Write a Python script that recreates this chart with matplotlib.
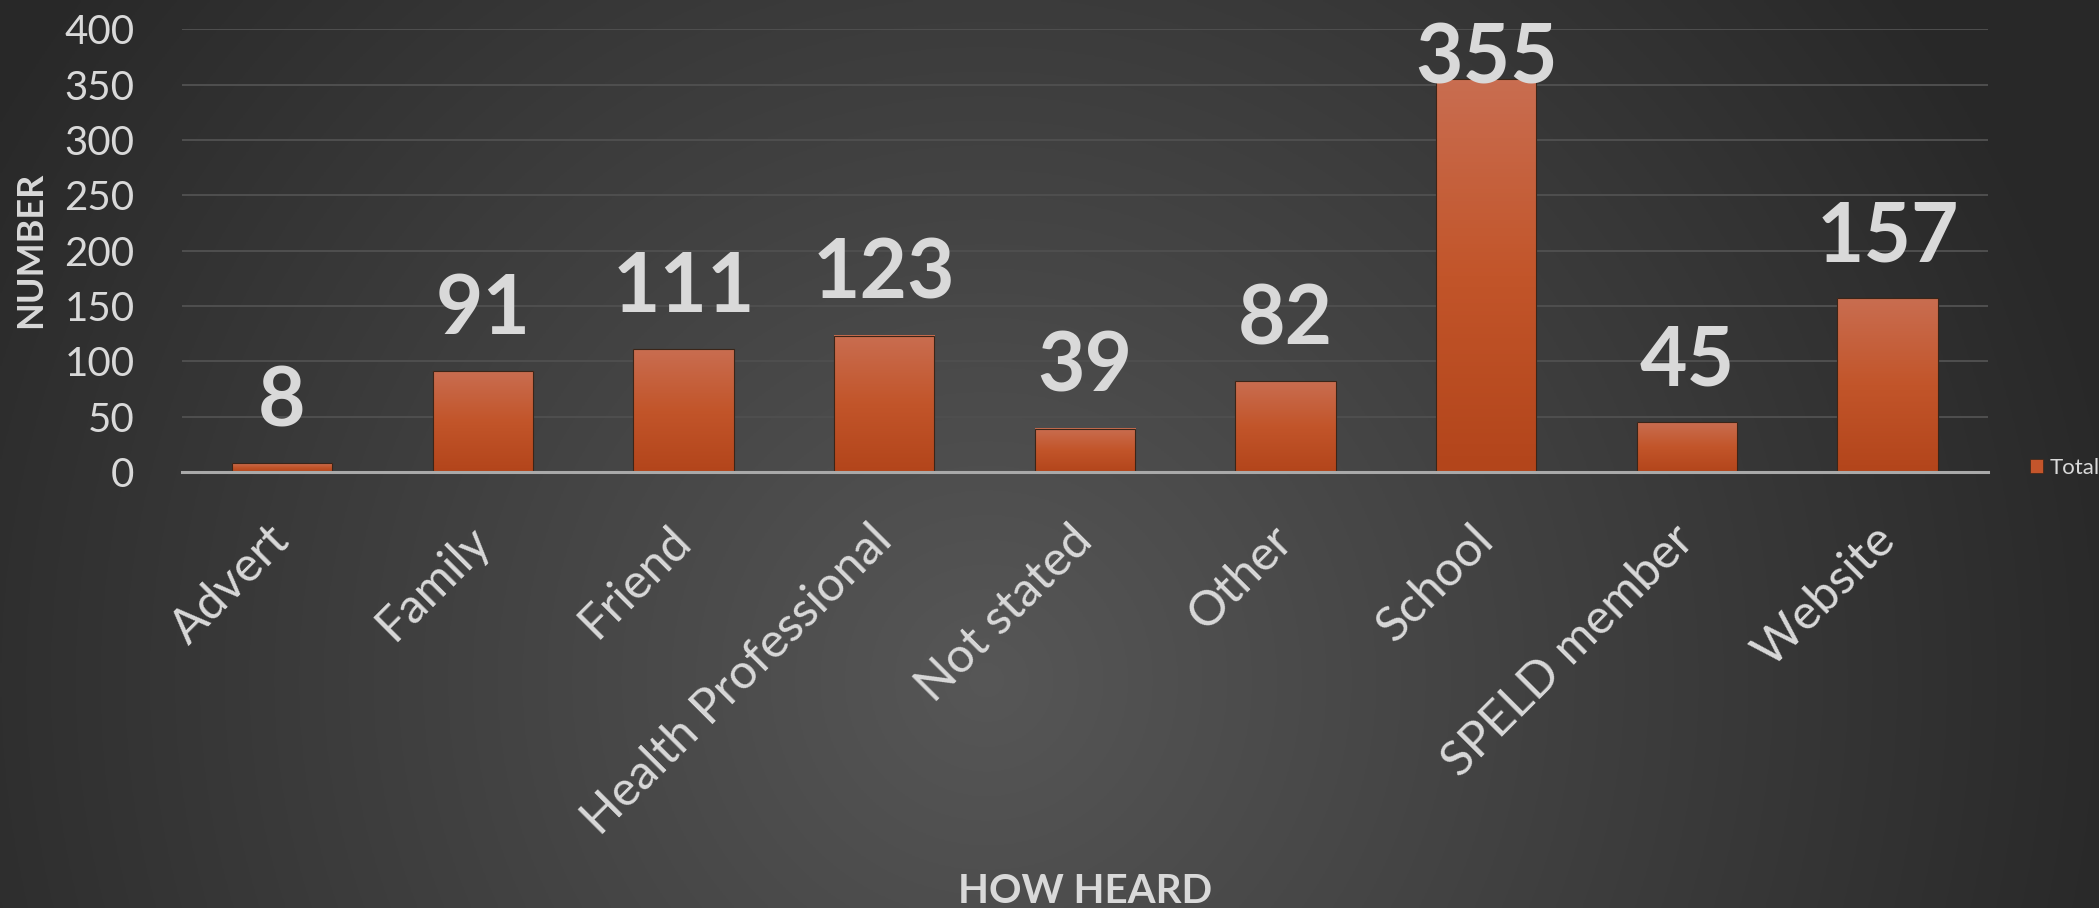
import numpy as np
import matplotlib.pyplot as plt
from matplotlib.patches import Patch
from matplotlib.colors import LinearSegmentedColormap

# data
categories = ['Advert', 'Family', 'Friend', 'Health Professional', 'Not stated',
              'Other', 'School', 'SPELD member', 'Website']
totals = [8, 91, 111, 123, 39, 82, 355, 45, 157]
y_ticks = [0, 50, 100, 150, 200, 250, 300, 350, 400]

plt.rcParams['font.family'] = ['Lato', 'DejaVu Sans']
txt_col = '#d9d9d9'

W, H = 2099, 908
fig = plt.figure(figsize=(W / 100, H / 100), dpi=100)

# radial grey background
bg = fig.add_axes([0, 0, 1, 1], zorder=0)
yy, xx = np.mgrid[0:1:300j, 0:1:700j]
d = np.sqrt(((xx - 0.47) * 2.3) ** 2 + ((yy - 0.25) * 1.0) ** 2)
d = np.clip(d / 1.25, 0, 1)
shade = 0.34 - (0.34 - 0.16) * d
bg.imshow(np.dstack([shade] * 3), extent=[0, 1, 0, 1], origin='lower', aspect='auto')
bg.set_axis_off()

ax = fig.add_axes([181.7 / W, 1 - 472 / H, (1988 - 181.7) / W, (472 - 29.3) / H], zorder=1)
ax.patch.set_visible(False)

x = np.arange(len(categories))
bars = ax.bar(x, totals, width=0.5, color='none', edgecolor='#3b2518', lw=0.8, zorder=3)

# vertical gradient inside each bar
bar_cmap = LinearSegmentedColormap.from_list('bar', ['#b3451b', '#c2552a', '#c96d50'])
grad = np.linspace(0, 1, 100).reshape(-1, 1)
for b in bars:
    ax.imshow(grad, extent=[b.get_x(), b.get_x() + b.get_width(), 0, b.get_height()],
              origin='lower', aspect='auto', cmap=bar_cmap, zorder=2.9)

ax.set_xlim(-0.5, len(categories) - 0.5)
ax.set_ylim(0, 400)
ax.set_yticks(y_ticks)
ax.set_xticks(x)
ax.set_xticklabels(categories)
ax.grid(axis='y', color='#4f4f4f', lw=1.4, zorder=1)
ax.set_axisbelow(True)
for s in ['top', 'right', 'left']:
    ax.spines[s].set_visible(False)
ax.spines['bottom'].set_color('#a9a9a9')
ax.spines['bottom'].set_linewidth(2.2)
ax.spines['bottom'].set_zorder(4)

ax.tick_params(axis='y', length=0, pad=34, labelsize=29, labelcolor=txt_col)
ax.tick_params(axis='x', length=0, pad=44, labelsize=35, labelcolor=txt_col)
for lab in ax.get_xticklabels():
    lab.set_rotation(45)
    lab.set_ha('right')
    lab.set_va('center')
    lab.set_rotation_mode('anchor')

# value labels, pushed down when they would leave the picture
for i, v in enumerate(totals):
    top_px = ax.transData.transform((i, v))[1]
    off = min(37, H - top_px - 83)
    ax.annotate(str(v), (i, v), xytext=(0, off), textcoords='offset pixels',
                ha='center', va='baseline', fontsize=59, fontweight='bold',
                color=txt_col, annotation_clip=False, zorder=5)

fig.text(31 / W, 1 - 250 / H, 'NUMBER', rotation=90, ha='center', va='center',
         fontsize=26, fontweight='bold', color=txt_col)
fig.text(1085 / W, 5 / H, 'HOW HEARD', ha='center', va='baseline',
         fontsize=29, fontweight='bold', color=txt_col)

fig.legend([Patch(facecolor='#c4552b', edgecolor='#3b2518', lw=0.5)], ['Total'],
           loc='center left', bbox_to_anchor=(2030 / W, 1 - 468 / H), frameon=False,
           fontsize=16, handlelength=0.6, handleheight=0.6, handletextpad=0.3,
           labelcolor=txt_col, borderaxespad=0, borderpad=0)

fig.savefig('out.png', dpi=100)
